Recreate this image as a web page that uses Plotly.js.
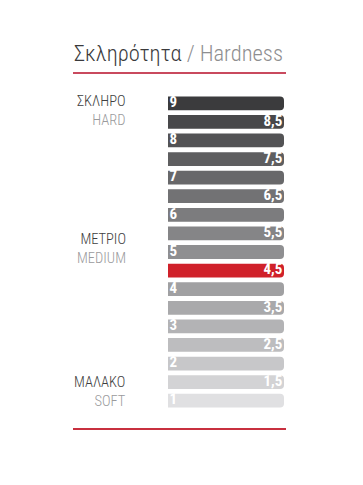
<!DOCTYPE html>
<html>
<head>
<meta charset="utf-8">
<script src="https://cdn.plot.ly/plotly-3.0.1.min.js"></script>
<style>html,body{margin:0;padding:0;background:#fff;}#chart{width:363px;height:485px;}</style>
</head>
<body>
<div id="chart"></div>
<script>
// ---- data ----
var levels = ['9', '8,5', '8', '7,5', '7', '6,5', '6', '5,5', '5', '4,5', '4', '3,5', '3', '2,5', '2', '1,5', '1'];
var barLength = [1, 1, 1, 1, 1, 1, 1, 1, 1, 1, 1, 1, 1, 1, 1, 1, 1];
var barColors = ['#3b3b3d', '#48484a', '#535355', '#5e5e60', '#68686a', '#727274', '#7c7c7e', '#858587', '#8f8f91', '#d0212a', '#a0a0a2', '#a9a9ab', '#b3b3b5', '#bdbdbf', '#c7c7c9', '#d3d3d5', '#e0e0e2'];
var scaleGreek = ['ΣΚΛΗΡΟ', 'ΜΕΤΡΙΟ', 'ΜΑΛΑΚΟ'];
var scaleEnglish = ['HARD', 'MEDIUM', 'SOFT'];
var titleGreek = 'Σκληρότητα';
var titleEnglish = 'Hardness';

// ---- layout helpers ----
var W = 363, H = 485;
var M = {l: 168, r: 79, t: 94, b: 75};
var PW = W - M.l - M.r, PH = H - M.t - M.b;
function px(x) { return (x - M.l) / PW; }
function py(y) { return (H - M.b - y) / PH; }

var FONT = 'Liberation Sans Narrow, Roboto Condensed, Arial Narrow, Roboto, sans-serif';

var intIdx = [], halfIdx = [];
levels.forEach(function (l, i) { if (l.indexOf(',') < 0) intIdx.push(i); else halfIdx.push(i); });
function pick(arr, idx) { return idx.map(function (i) { return arr[i]; }); }

var bars = {
  type: 'bar', orientation: 'h',
  y: levels, x: barLength,
  marker: {color: barColors, cornerradius: 4, line: {width: 0}},
  hoverinfo: 'skip', showlegend: false
};

function labelTrace(idx, atEnd) {
  return {
    type: 'scatter', mode: 'text',
    y: pick(levels, idx),
    x: pick(barLength, idx).map(function (v) { return atEnd ? v * 0.985 : v * 0.012; }),
    text: pick(levels, idx),
    textposition: atEnd ? 'middle left' : 'middle right',
    textfont: {family: FONT, size: 15, color: '#ffffff', weight: 'bold'},
    hoverinfo: 'skip', showlegend: false, cliponaxis: false
  };
}

var data = [bars, labelTrace(intIdx, false), labelTrace(halfIdx, true)];

var labelY = [111, 249, 392];
var annotations = [];
scaleGreek.forEach(function (g, i) {
  annotations.push({xref: 'paper', yref: 'paper', x: px(128), y: py(labelY[i]), xanchor: 'right', yanchor: 'middle',
    align: 'right',
    text: '<span style="color:#3e3e40">' + g + '</span><br><span style="color:#9a9a9c">' + scaleEnglish[i] + '</span>',
    showarrow: false, font: {family: FONT, size: 14.5, color: '#3e3e40', weight: 300}});
});
annotations.push({xref: 'paper', yref: 'paper', x: px(72), y: py(53), xanchor: 'left', yanchor: 'middle',
  text: '<span style="color:#3a3a3c">' + titleGreek + '</span><span style="color:#8e8e90"> / ' + titleEnglish + '</span>',
  showarrow: false, font: {family: FONT, size: 22.5, color: '#3a3a3c', weight: 300}});

var shapes = [
  {type: 'line', xref: 'paper', yref: 'paper', x0: px(73), x1: px(286), y0: py(73), y1: py(73), line: {color: '#c94a5e', width: 2}},
  {type: 'line', xref: 'paper', yref: 'paper', x0: px(73), x1: px(286), y0: py(429), y1: py(429), line: {color: '#c8303f', width: 2}}
];

var layout = {
  width: W, height: H, margin: M,
  paper_bgcolor: '#ffffff', plot_bgcolor: '#ffffff',
  bargap: 0.26,
  xaxis: {range: [0, 1], visible: false, fixedrange: true},
  yaxis: {type: 'category', categoryorder: 'array', categoryarray: levels.slice().reverse(),
    range: [-0.5, levels.length - 0.5], visible: false, fixedrange: true},
  annotations: annotations, shapes: shapes,
  font: {family: FONT}
};

Plotly.newPlot('chart', data, layout, {displayModeBar: false, staticPlot: true});
</script>
</body>
</html>
